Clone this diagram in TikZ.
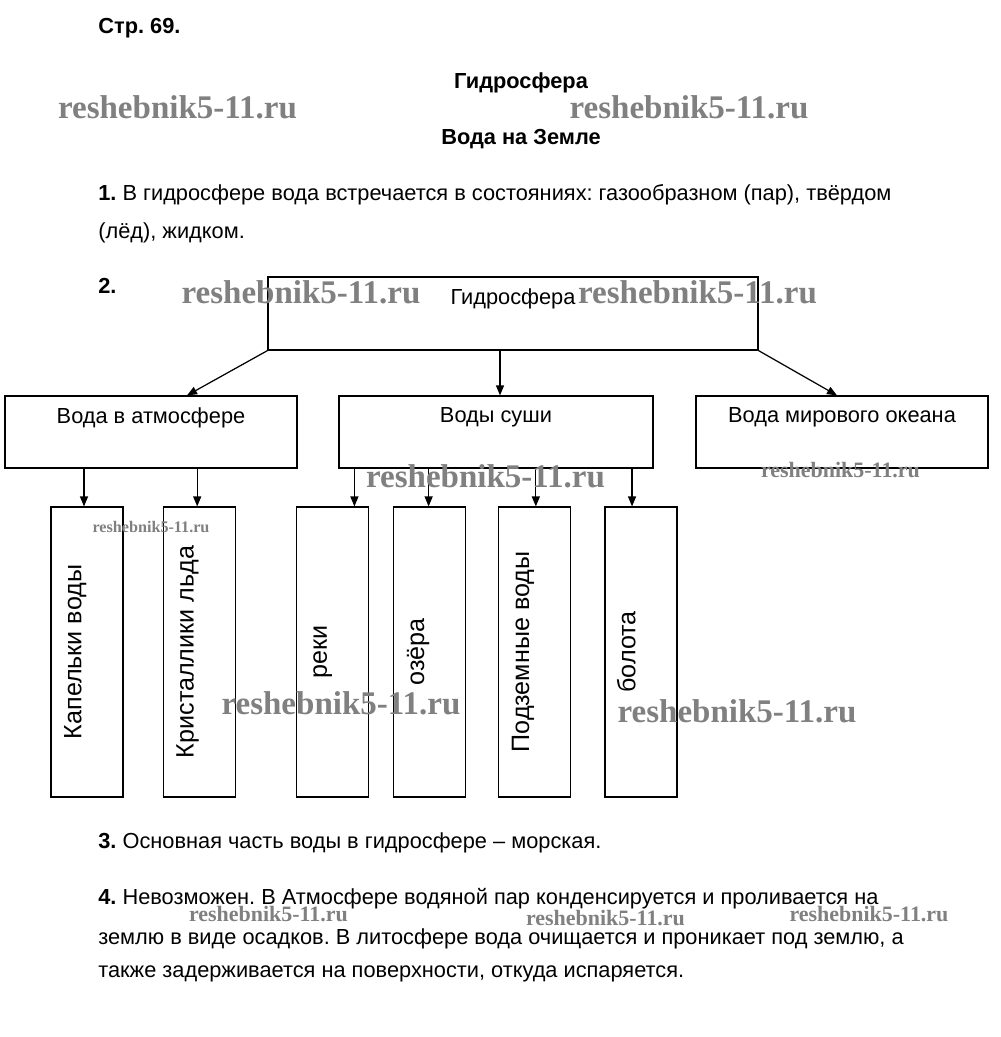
\documentclass[tikz,border=0pt]{standalone}
\usepackage{fontspec}
\setmainfont{Liberation Sans}
\newfontfamily\wmfont{Liberation Serif}
\usetikzlibrary{arrows.meta, positioning, calc}
\newcommand{\txtsize}{\fontsize{12.4}{14}\selectfont}
\newcommand{\vtxtsize}{\fontsize{14.3}{16}\selectfont}
\frenchspacing

\begin{document}
\begin{tikzpicture}[
    x=0.02cm, y=-0.02cm,
    % --- BASE STYLES ---
    box/.style={rectangle, draw=black, line width=0.7pt, inner sep=0pt},
    wide/.style={box, minimum height=1.44cm},
    tall/.style={box, minimum width=1.44cm, minimum height=5.8cm},
    boxtext/.style={label={[font=\txtsize, anchor=north, inner sep=0pt, yshift=-0.24cm]north:{#1}}},
    vtext/.style={rotate=90, anchor=base, font=\vtxtsize, inner sep=0pt},
    arr/.style={draw=black, line width=0.7pt, -{Triangle[length=2mm, width=1.6mm]}},
    para/.style={anchor=base west, font=\txtsize, inner sep=0pt},
    heading/.style={anchor=base, font=\txtsize\bfseries, inner sep=0pt},
    % --- WATERMARKS ---
    wmark/.style={font=\wmfont\bfseries\fontsize{#1}{#1}\selectfont, text=black!50, inner sep=0pt},
    wmark/.default=18.8
]

\fill[white] (0,0) rectangle (1000,1037);
\useasboundingbox (0,0) rectangle (1000,1037);

% ==========================================
% HEADER
% ==========================================
\node[para, font=\txtsize\bfseries] (page) at (98,34) {Стр. 69.};
\node[heading] (title) at (521,89) {Гидросфера};
\node[heading] (subtitle) at (521,145) {Вода на Земле};

\node[para] (q1a) at (98,200) {{\bfseries 1.} В гидросфере вода встречается в состояниях: газообразном (пар), твёрдом};
\node[para] (q1b) at (98,238) {(лёд), жидком.};
\node[para] (q2) at (98,293) {\bfseries 2.};

% ==========================================
% SCHEME: TOP AND SECOND ROW
% ==========================================
\node[box, minimum width=9.8cm, minimum height=1.46cm, boxtext={Гидросфера}] (hydro) at (513,313.5) {};

\node[wide, minimum width=5.84cm, boxtext={Вода в атмосфере}] (atm) at (151,432) {};
\node[wide, minimum width=6.28cm, boxtext={Воды суши}] (land) at (496,432) {};
\node[wide, minimum width=5.84cm, boxtext={Вода мирового океана}] (ocean) at (842,432) {};

\draw[arr] (hydro.south west) -- ($(atm.north)+(36,0)$);
\draw[arr] ($(hydro.south)+(-13,0)$) -- ($(land.north)+(4,0)$);
\draw[arr] (hydro.south east) -- ($(ocean.north)+(-5,0)$);

% ==========================================
% THIRD ROW (VERTICAL BOXES)
% ==========================================
\node[tall] (drops) at (87,652) {};
\node[tall, right=0.78cm of drops] (crystals) {};
\node[tall, right=1.2cm of crystals] (rivers) {};
\node[tall, right=0.48cm of rivers] (lakes) {};
\node[tall, right=0.64cm of lakes] (ground) {};
\node[tall, right=0.66cm of ground] (swamps) {};

\foreach \n/\t in {drops/Капельки воды, crystals/Кристаллики льда, rivers/реки,
                   lakes/озёра, ground/Подземные воды, swamps/болота} {
    \node[vtext] (\n txt) at ($(\n.west)+(31,0)$) {\t};
}

% Arrows down from the second row
\foreach \src/\n/\dx in {atm/drops/-3, atm/crystals/-2, land/rivers/22,
                         land/lakes/-1, land/ground/1, land/swamps/-9} {
    \coordinate (\n top) at ($(\n.north)+(\dx,0)$);
    \draw[arr] (\src.south -| \n top) -- (\n top);
}

% ==========================================
% ANSWERS 3 AND 4
% ==========================================
\node[para] (q3) at (98,848) {{\bfseries 3.} Основная часть воды в гидросфере – морская.};
\node[para] (q4a) at (98,904) {{\bfseries 4.} Невозможен. В Атмосфере водяной пар конденсируется и проливается на};
\node[para] (q4b) at (98,944) {землю в виде осадков. В литосфере вода очищается и проникает под землю, а};
\node[para] (q4c) at (98,977) {также задерживается на поверхности, откуда испаряется.};

% ==========================================
% WATERMARKS
% ==========================================
\node[wmark] (wm1) at (177.5,107) {reshebnik5-11.ru};
\node[wmark] (wm2) at (689,107) {reshebnik5-11.ru};
\node[wmark] (wm3) at (301,292) {reshebnik5-11.ru};
\node[wmark] (wm4) at (697.5,292) {reshebnik5-11.ru};
\node[wmark] (wm5) at (485.5,476) {reshebnik5-11.ru};
\node[wmark] (wm6) at (341,703) {reshebnik5-11.ru};
\node[wmark] (wm7) at (737,711) {reshebnik5-11.ru};
\node[wmark=12.5] (wm8) at (840.5,470) {reshebnik5-11.ru};
\node[wmark=9.2] (wm9) at (151,527) {reshebnik5-11.ru};
\node[wmark=12.5] (wm10) at (268.5,914) {reshebnik5-11.ru};
\node[wmark=12.5] (wm11) at (605.5,918) {reshebnik5-11.ru};
\node[wmark=12.5] (wm12) at (869,914) {reshebnik5-11.ru};

\end{tikzpicture}
\end{document}
